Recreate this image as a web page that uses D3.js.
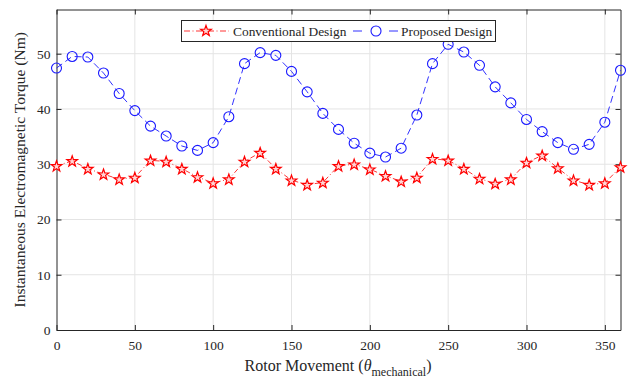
<!DOCTYPE html>
<html lang="en">
<head>
  <meta charset="UTF-8">
  <title>Instantaneous Electromagnetic Torque</title>
  <script src="https://d3js.org/d3.v7.min.js"></script>
  <style>
    body, html { margin: 0; padding: 0; background: #fff; overflow: hidden; }
    svg { display: block; font-family: "Liberation Serif", "Times New Roman", serif; }
  </style>
</head>
<body>
  <svg id="chart" width="633" height="382"></svg>
  <script>
    // Rotor angle (mechanical degrees)
    const angles = [0, 10, 20, 30, 40, 50, 60, 70, 80, 90, 100, 110, 120, 130, 140, 150, 160, 170, 180,
                    190, 200, 210, 220, 230, 240, 250, 260, 270, 280, 290, 300, 310, 320, 330, 340, 350, 360];

    // Torque (Nm)
    const conventional = [29.7, 30.6, 29.2, 28.2, 27.3, 27.6, 30.7, 30.5, 29.2, 27.7, 26.6, 27.3, 30.5, 32.1, 29.2,
                          27.1, 26.3, 26.7, 29.7, 30.0, 29.1, 27.9, 26.9, 27.6, 31.0, 30.7, 29.2, 27.4, 26.5, 27.3,
                          30.3, 31.6, 29.3, 27.1, 26.3, 26.6, 29.5];
    const proposed = [47.4, 49.5, 49.4, 46.5, 42.8, 39.7, 36.9, 35.1, 33.3, 32.5, 33.9, 38.6, 48.2, 50.2, 49.7,
                      46.8, 43.1, 39.2, 36.3, 33.8, 32.0, 31.3, 32.9, 38.9, 48.2, 51.7, 50.3, 47.9, 44.0, 41.1,
                      38.1, 35.9, 33.9, 32.7, 33.6, 37.6, 47.0];

    const xTicks = [0, 50, 100, 150, 200, 250, 300, 350];
    const yTicks = [0, 10, 20, 30, 40, 50];

    const margin = { left: 56.5, right: 12.5, top: 9.5, bottom: 52 };
    const W = 633, H = 382;
    const svg = d3.select('#chart');

    const x = d3.scaleLinear().domain([0, 360]).range([margin.left, W - margin.right]);
    const y = d3.scaleLinear().domain([0, 58]).range([H - margin.bottom, margin.top]);

    const axisColor = '#262626';
    const red = '#ff0000', blue = '#1a1aff';
    const redDash = '5,2.5,1,2.5', blueDash = '7,4';

    // grid
    const grid = svg.append('g');
    grid.selectAll('.gx').data(xTicks.slice(1)).enter().append('line')
      .attr('x1', d => x(d)).attr('x2', d => x(d))
      .attr('y1', y(0)).attr('y2', y(58))
      .attr('stroke', '#e4e4e4').attr('stroke-width', 1);
    grid.selectAll('.gy').data(yTicks.slice(1)).enter().append('line')
      .attr('x1', x(0)).attr('x2', x(360))
      .attr('y1', d => y(d)).attr('y2', d => y(d))
      .attr('stroke', '#e4e4e4').attr('stroke-width', 1);

    // axes (ticks pointing inside, box on)
    const tickLen = 5;
    const xb = svg.append('g').attr('transform', `translate(0,${y(0)})`)
      .call(d3.axisBottom(x).tickValues(xTicks).tickSizeInner(-tickLen).tickSizeOuter(0).tickPadding(10));
    const xt = svg.append('g').attr('transform', `translate(0,${y(58)})`)
      .call(d3.axisTop(x).tickValues(xTicks).tickSizeInner(-tickLen).tickSizeOuter(0).tickFormat(''));
    const yl = svg.append('g').attr('transform', `translate(${x(0)},0)`)
      .call(d3.axisLeft(y).tickValues(yTicks).tickSizeInner(-tickLen).tickSizeOuter(0).tickPadding(6));
    const yr = svg.append('g').attr('transform', `translate(${x(360)},0)`)
      .call(d3.axisRight(y).tickValues(yTicks).tickSizeInner(-tickLen).tickSizeOuter(0).tickFormat(''));
    [xb, xt, yl, yr].forEach(g => {
      g.selectAll('path').attr('stroke', axisColor).attr('stroke-width', 1);
      g.selectAll('line').attr('stroke', axisColor).attr('stroke-width', 1);
      g.selectAll('text').attr('fill', axisColor)
        .style('font-family', '"Liberation Serif", serif').style('font-size', '13.5px');
    });

    // series lines
    const line = d3.line().x((d, i) => x(angles[i])).y(d => y(d));
    svg.append('path').datum(conventional)
      .attr('d', line).attr('fill', 'none')
      .attr('stroke', red).attr('stroke-width', 0.8)
      .attr('stroke-dasharray', redDash);
    svg.append('path').datum(proposed)
      .attr('d', line).attr('fill', 'none')
      .attr('stroke', blue).attr('stroke-width', 0.9)
      .attr('stroke-dasharray', blueDash);

    // pentagram marker
    function starPath(r) {
      const ri = r * 0.4;
      const pts = [];
      for (let k = 0; k < 10; k++) {
        const a = -Math.PI / 2 + k * Math.PI / 5;
        const rr = k % 2 === 0 ? r : ri;
        pts.push([rr * Math.cos(a), rr * Math.sin(a)]);
      }
      return 'M' + pts.map(p => p[0].toFixed(2) + ',' + p[1].toFixed(2)).join('L') + 'Z';
    }

    svg.append('g').selectAll('path').data(conventional).enter().append('path')
      .attr('d', starPath(5.6))
      .attr('transform', (d, i) => `translate(${x(angles[i])},${y(d) + 0.5})`)
      .attr('fill', '#ffd6d6').attr('stroke', red).attr('stroke-width', 1.2);

    svg.append('g').selectAll('circle').data(proposed).enter().append('circle')
      .attr('cx', (d, i) => x(angles[i])).attr('cy', d => y(d)).attr('r', 5)
      .attr('fill', 'none').attr('stroke', blue).attr('stroke-width', 1.1);

    // axis labels
    const xlab = svg.append('text')
      .attr('x', 338).attr('y', 371)
      .attr('text-anchor', 'middle')
      .attr('fill', axisColor).style('font-size', '16px');
    xlab.append('tspan').text('Rotor Movement (');
    xlab.append('tspan').text('θ').style('font-style', 'italic');
    xlab.append('tspan').text('mechanical').attr('dy', 5).style('font-size', '12px');
    xlab.append('tspan').text(')').attr('dy', -5);

    svg.append('text')
      .attr('transform', `translate(25,${(y(0) + y(58)) / 2}) rotate(-90)`)
      .attr('text-anchor', 'middle')
      .attr('fill', axisColor).style('font-size', '15.5px')
      .text('Instantaneous Electromagnetic Torque (Nm)');

    // legend
    const lg = svg.append('g');
    lg.append('rect').attr('x', 181.5).attr('y', 20.5).attr('width', 314).attr('height', 21)
      .attr('fill', '#fff').attr('stroke', axisColor).attr('stroke-width', 1);
    const ly = 31;
    lg.append('line').attr('x1', 184).attr('x2', 229).attr('y1', ly).attr('y2', ly)
      .attr('stroke', red).attr('stroke-width', 0.8).attr('stroke-dasharray', '6,2.5,1,2.5');
    lg.append('path').attr('d', starPath(5.6)).attr('transform', `translate(206,${ly})`)
      .attr('fill', '#ffd6d6').attr('stroke', red).attr('stroke-width', 1.2);
    lg.append('text').attr('x', 233).attr('y', ly + 5).attr('fill', axisColor)
      .style('font-size', '13.4px').text('Conventional Design');
    lg.append('line').attr('x1', 353).attr('x2', 398).attr('y1', ly).attr('y2', ly)
      .attr('stroke', blue).attr('stroke-width', 0.9).attr('stroke-dasharray', '9,27,9');
    lg.append('circle').attr('cx', 376).attr('cy', ly).attr('r', 5)
      .attr('fill', 'none').attr('stroke', blue).attr('stroke-width', 1.1);
    lg.append('text').attr('x', 401).attr('y', ly + 5).attr('fill', axisColor)
      .style('font-size', '13.4px').text('Proposed Design');
  </script>
</body>
</html>
